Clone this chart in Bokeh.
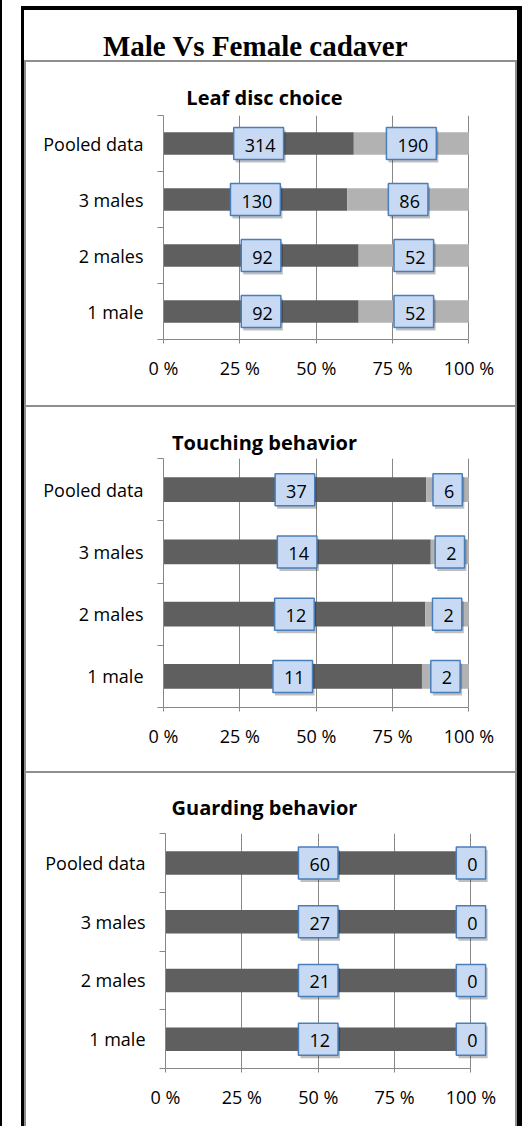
from bokeh.plotting import figure
from bokeh.models import Range1d, FixedTicker, ColumnDataSource, Div
from bokeh.layouts import column, row
from bokeh.embed import file_html
from bokeh.resources import INLINE
from bokeh.core.properties import value

# ---------------- data ----------------
main_title = "Male Vs Female cadaver"
categories = ["1 male", "2 males", "3 males", "Pooled data"]
x_ticks = [0, 25, 50, 75, 100]
x_tick_labels = ["0 %", "25 %", "50 %", "75 %", "100 %"]

leaf_title = "Leaf disc choice"
leaf_male = [92, 92, 130, 314]
leaf_female = [52, 52, 86, 190]

touch_title = "Touching behavior"
touch_male = [11, 12, 14, 37]
touch_female = [2, 2, 2, 6]

guard_title = "Guarding behavior"
guard_male = [12, 21, 27, 60]
guard_female = [0, 0, 0, 0]

# ---------------- style ----------------
GRID = "#878787"
DARK = "#5f5f5f"
LIGHT = "#b2b2b2"
PANEL_BORDER = "#8e8e8e"
FONT = "Open Sans"
PW = 489
X_END = 110  # room right of 100 % so the end labels are not clipped
FRAME_W = 336
HEAD_H = 49


def text_canvas(w, h, bl, br, txt, tx, ty, font, size):
    """A blank canvas whose frame data units are pixels, holding one title text.
    Its borders match the plot below it, so the two frames line up."""
    fw = w - bl - br
    f = figure(width=w, height=h, x_range=Range1d(0, fw), y_range=Range1d(0, h),
               x_axis_type=None, y_axis_type=None, output_backend="svg",
               toolbar_location=None, min_border_left=bl, min_border_right=br,
               min_border_top=0, min_border_bottom=0)
    f.outline_line_color = None
    f.grid.visible = False
    f.border_fill_color = "white"
    f.background_fill_color = "white"
    f.text(x=[tx - bl], y=[ty], text=[txt], text_font=value(font),
           text_font_size=size, text_font_style="bold", text_align="center",
           text_baseline="middle", text_color="black", text_line_height=1.0)
    return f


def make_panel(title, male, female, h, bt, bb, bl, title_dy):
    n = len(categories)
    ys = [i + 0.5 for i in range(n)]
    tot = [m + f for m, f in zip(male, female)]
    mp = [100.0 * m / t for m, t in zip(male, tot)]
    src = ColumnDataSource(dict(
        y=ys, left0=[0.0] * n, mp=mp, right100=[100.0] * n,
        mc=[v / 2 for v in mp], fc=[(v + 100) / 2 for v in mp],
        mt=[str(v) for v in male], ft=[str(v) for v in female]))
    ph = h - HEAD_H
    br = PW - bl - FRAME_W
    p = figure(width=PW, height=ph, x_range=Range1d(0, X_END), y_range=Range1d(0, n),
               output_backend="svg", toolbar_location=None,
               min_border_left=bl, min_border_right=br,
               min_border_top=bt, min_border_bottom=bb)
    p.outline_line_color = None
    p.background_fill_color = "white"
    p.border_fill_color = "white"

    p.hbar(y="y", left="left0", right="mp", height=0.4, source=src,
           fill_color=DARK, line_color=None)
    p.hbar(y="y", left="mp", right="right100", height=0.4, source=src,
           fill_color=LIGHT, line_color=None)

    pad = (11, 8, 11, 8)
    for xcol, tcol in (("mc", "mt"), ("fc", "ft")):
        p.text(x=xcol, y="y", text=tcol, source=src,
               text_font=value(FONT), text_font_size="18px",
               text_align="center", text_baseline="middle",
               text_alpha=0.0, x_offset=2, y_offset=3,
               background_fill_color="black", background_fill_alpha=0.25,
               padding=pad)
        p.text(x=xcol, y="y", text=tcol, source=src,
               text_font=value(FONT), text_font_size="18px",
               text_align="center", text_baseline="middle",
               text_color="black",
               background_fill_color="#c8daf3",
               border_line_color="#4a7ebb", border_line_width=1.5,
               padding=pad)

    yax = p.yaxis[0]
    yax.ticker = FixedTicker(ticks=ys, minor_ticks=list(range(n + 1)))
    yax.major_label_overrides = {y: c for y, c in zip(ys, categories)}
    yax.major_tick_line_color = None
    yax.major_tick_out = 0
    yax.major_tick_in = 0
    yax.minor_tick_out = 6
    yax.minor_tick_in = 0
    yax.minor_tick_line_color = GRID
    yax.axis_line_color = GRID
    yax.major_label_standoff = 14
    yax.major_label_text_font = FONT
    yax.major_label_text_font_size = "18px"
    yax.major_label_text_color = "black"

    xax = p.xaxis[0]
    xax.ticker = FixedTicker(ticks=x_ticks)
    xax.bounds = (x_ticks[0], x_ticks[-1])
    xax.major_label_overrides = dict(zip(x_ticks, x_tick_labels))
    xax.major_tick_out = 4
    xax.major_tick_in = 0
    xax.major_tick_line_color = GRID
    xax.minor_tick_line_color = None
    xax.axis_line_color = GRID
    xax.major_label_standoff = 12
    xax.major_label_text_font = FONT
    xax.major_label_text_font_size = "18px"
    xax.major_label_text_color = "black"

    p.xgrid.ticker = FixedTicker(ticks=x_ticks)
    p.xgrid.grid_line_color = GRID
    p.ygrid.grid_line_color = None

    head = text_canvas(PW, HEAD_H, bl, br, title, 264 - 26, HEAD_H - title_dy,
                       FONT, "20px")
    return column(head, p, spacing=0)


p1 = make_panel(leaf_title, leaf_male, leaf_female, 343, 4, 66, 137, 35)
p2 = make_panel(touch_title, touch_male, touch_female, 364, 2, 64, 137, 35)
p3 = make_panel(guard_title, guard_male, guard_female, 343, 11, 48, 139, 34)


def block(w, h, color, extra=None):
    st = {"background-color": color}
    if extra:
        st.update(extra)
    return Div(text="", width=w, height=h, margin=0, styles=st)


tf = text_canvas(PW + 4, 50, 0, 0, main_title, 255 - 24, 15, "Liberation Serif", "29px")

H_PANELS = 2 + 343 + 2 + 364 + 2 + 343
ext_gray = {"box-shadow": "0 10px 0 " + PANEL_BORDER}
ext_black = {"box-shadow": "0 10px 0 black"}
panels_col = column(block(PW, 2, PANEL_BORDER), p1, block(PW, 2, PANEL_BORDER), p2,
                    block(PW, 2, PANEL_BORDER), p3, spacing=0)
panel_row = row(block(2, H_PANELS, PANEL_BORDER, ext_gray), panels_col,
                block(2, H_PANELS, PANEL_BORDER, ext_gray), spacing=0)

inner = column(tf, panel_row, spacing=0)
frame_row = row(block(3, 50 + H_PANELS, "black", ext_black), inner,
                block(5, 50 + H_PANELS, "black", ext_black), spacing=0)
frame = column(block(501, 6, "white"), block(501, 4, "black"), frame_row, spacing=0)

edge_line = block(2, 1116, "black", ext_black)
page = row(edge_line, block(19, 1116, "white"), frame, spacing=0)

open("out.html", "w").write(file_html(page, INLINE))
